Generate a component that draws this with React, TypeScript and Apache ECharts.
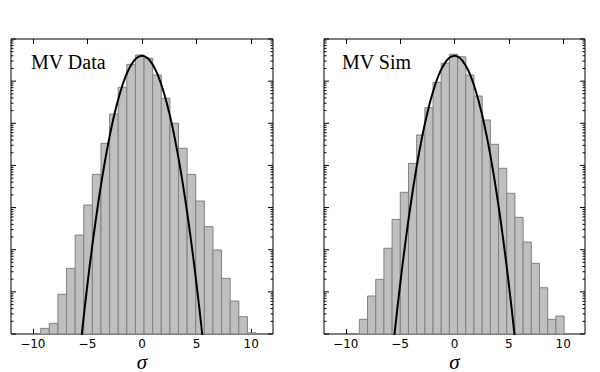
import React, { useEffect, useRef } from "react";
import * as echarts from "echarts";

// ---- data ----
const panelTitles = ["MV Data", "MV Sim"];
const xTickValues = [-10, -5, 0, 5, 10];
const xAxisName = "σ";

// histogram: first bin edge, bin width, densities (log y axis)
const dataBinStart = -9.28;
const dataBinWidth = 0.789;
const dataCounts = [
  1.36e-7, 1.79e-7, 8.73e-7, 3.61e-6, 2.23e-5, 1.15e-4, 6.15e-4, 3.35e-3,
  1.66e-2, 7.14e-2, 0.251, 0.417, 0.348, 0.14, 3.92e-2, 1.0e-2, 2.55e-3,
  6.15e-4, 1.43e-4, 3.52e-5, 9.84e-6, 2.09e-6, 6.05e-7, 2.57e-7, 1.07e-7,
];

const simBinStart = -8.75;
const simBinWidth = 0.753;
const simCounts = [
  2.23e-7, 7.96e-7, 1.98e-6, 1.08e-5, 5.26e-5, 2.3e-4, 1.12e-3, 5.27e-3,
  2.34e-2, 9.38e-2, 0.265, 0.434, 0.38, 0.14, 4.44e-2, 1.2e-2, 3.17e-3,
  8.55e-4, 2.18e-4, 5.87e-5, 1.52e-5, 4.75e-6, 1.25e-6, 2.23e-7, 2.67e-7,
];

// unit gaussian overlay (read points)
const curveX = [-6, -5.5, -5, -4.5, -4, -3.5, -3, -2.5, -2, -1.5, -1, -0.5, 0,
  0.5, 1, 1.5, 2, 2.5, 3, 3.5, 4, 4.5, 5, 5.5, 6];
const curveY = [6.076e-9, 1.077e-7, 1.487e-6, 1.598e-5, 1.338e-4, 8.727e-4,
  4.432e-3, 1.753e-2, 5.399e-2, 0.1295, 0.242, 0.3521, 0.3989, 0.3521, 0.242,
  0.1295, 5.399e-2, 1.753e-2, 4.432e-3, 8.727e-4, 1.338e-4, 1.598e-5,
  1.487e-6, 1.077e-7, 6.076e-9];

const X_MIN = -12;
const X_MAX = 12;
const Y_MIN = 1e-7;
const Y_MAX = 1;
const decades = [-7, -6, -5, -4, -3, -2, -1, 0];
const minorMantissas = [2, 3, 4, 5, 6, 7, 8, 9];

export default function App() {
  const ref = useRef<HTMLDivElement>(null);

  useEffect(() => {
    if (!ref.current) return;
    const chart = echarts.init(ref.current, null, { renderer: "svg" });

    const tickData: number[][] = [];
    decades.forEach((d) => {
      tickData.push([X_MIN, Math.pow(10, d), 1]);
      if (d < 0) {
        minorMantissas.forEach((m) => {
          tickData.push([X_MIN, m * Math.pow(10, d), 0]);
        });
      }
    });

    const grids = [
      { left: 11, top: 39, width: 262, height: 295 },
      { left: 324, top: 39, width: 261, height: 295 },
    ];
    const panels = [
      { start: dataBinStart, width: dataBinWidth, counts: dataCounts },
      { start: simBinStart, width: simBinWidth, counts: simCounts },
    ];

    const xAxes: any[] = [];
    const yAxes: any[] = [];
    const series: any[] = [];

    grids.forEach((g, i) => {
      xAxes.push({
        type: "value",
        gridIndex: i,
        min: X_MIN,
        max: X_MAX,
        position: "bottom",
        axisLine: { show: false },
        splitLine: { show: false },
        axisTick: {
          show: true,
          inside: true,
          length: 5,
          customValues: xTickValues,
          lineStyle: { color: "#000", width: 1 },
        },
        axisLabel: {
          show: true,
          customValues: xTickValues,
          margin: 3,
          color: "#000",
          fontFamily: "DejaVu Sans",
          fontSize: 12,
          lineHeight: 13,
          formatter: (v: number) => (v < 0 ? "\u2212" + Math.abs(v) : String(v)),
        },
      });
      xAxes.push({
        type: "value",
        gridIndex: i,
        min: X_MIN,
        max: X_MAX,
        position: "top",
        axisLine: { show: false },
        splitLine: { show: false },
        axisTick: {
          show: true,
          inside: true,
          length: 5,
          customValues: xTickValues,
          lineStyle: { color: "#000", width: 1 },
        },
        axisLabel: { show: false },
      });
      yAxes.push({
        type: "log",
        logBase: 10,
        gridIndex: i,
        min: Y_MIN,
        max: Y_MAX,
        axisLine: { show: false },
        axisTick: { show: false },
        axisLabel: { show: false },
        splitLine: { show: false },
      });

      const p = panels[i];
      const barData = p.counts.map((c, k) => [
        p.start + k * p.width,
        p.start + (k + 1) * p.width,
        c,
      ]);
      series.push({
        type: "custom",
        xAxisIndex: i * 2,
        yAxisIndex: i,
        data: barData,
        encode: { x: [0, 1], y: 2 },
        clip: true,
        z: 2,
        renderItem: (params: any, api: any) => {
          const p1 = api.coord([api.value(0), api.value(2)]);
          const p2 = api.coord([api.value(1), Y_MIN]);
          return {
            type: "rect",
            shape: {
              x: p1[0],
              y: p1[1],
              width: p2[0] - p1[0],
              height: p2[1] - p1[1],
            },
            style: { fill: "#bfbfbf", stroke: "#808080", lineWidth: 1 },
          };
        },
      });
      series.push({
        type: "line",
        xAxisIndex: i * 2,
        yAxisIndex: i,
        data: curveX.map((x, k) => [x, curveY[k]]),
        smooth: 0.4,
        showSymbol: false,
        symbol: "none",
        clip: true,
        z: 4,
        lineStyle: { color: "#000", width: 2 },
      });
      series.push({
        type: "custom",
        xAxisIndex: i * 2,
        yAxisIndex: i,
        data: tickData,
        encode: { x: 0, y: 1 },
        clip: false,
        z: 6,
        renderItem: (params: any, api: any) => {
          const v = api.value(1);
          const len = api.value(2) ? 5 : 2.5;
          const pl = api.coord([X_MIN, v]);
          const pr = api.coord([X_MAX, v]);
          return {
            type: "group",
            children: [
              {
                type: "line",
                shape: { x1: pl[0], y1: pl[1], x2: pl[0] + len, y2: pl[1] },
                style: { stroke: "#000", lineWidth: 1 },
              },
              {
                type: "line",
                shape: { x1: pr[0], y1: pr[1], x2: pr[0] - len, y2: pr[1] },
                style: { stroke: "#000", lineWidth: 1 },
              },
            ],
          };
        },
      });
    });

    const titleText = (t: string, x: number) => ({
      type: "text",
      x,
      y: 62,
      z: 10,
      style: {
        text: t,
        fontFamily: "Liberation Serif",
        fontSize: 20,
        fill: "#000",
        align: "left",
        verticalAlign: "middle",
      },
    });
    const sigmaText = (x: number) => ({
      type: "text",
      x,
      y: 361.5,
      z: 10,
      style: {
        text: xAxisName,
        fontFamily: "Liberation Serif",
        fontStyle: "italic",
        fontSize: 21,
        lineHeight: 20,
        fill: "#000",
        align: "center",
        verticalAlign: "middle",
      },
    });

    chart.setOption({
      animation: false,
      backgroundColor: "#fff",
      grid: grids.map((g) => ({
        ...g,
        show: true,
        borderColor: "#000",
        borderWidth: 1,
        backgroundColor: "transparent",
        containLabel: false,
        outerBoundsMode: "none",
      })),
      xAxis: xAxes,
      yAxis: yAxes,
      series,
      graphic: [
        titleText(panelTitles[0], 31),
        titleText(panelTitles[1], 342),
        sigmaText(142),
        sigmaText(454.5),
      ],
    });

    return () => chart.dispose();
  }, []);

  return (
    <div
      ref={ref}
      style={{ position: "fixed", left: 0, top: 0, width: 600, height: 372 }}
    />
  );
}
